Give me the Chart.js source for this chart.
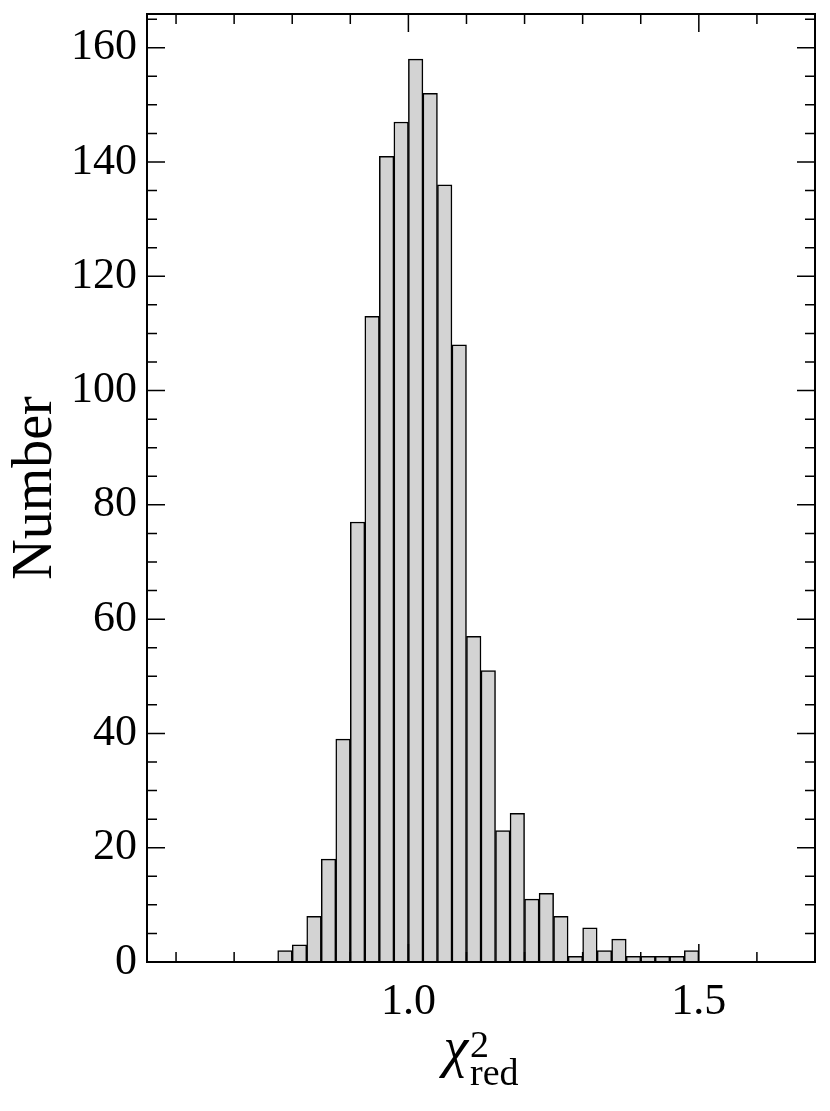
<!DOCTYPE html>
<html>
<head>
<meta charset="utf-8">
<script src="https://cdn.jsdelivr.net/npm/chart.js@4/dist/chart.umd.min.js"></script>
<style>
  html, body { margin: 0; padding: 0; background: #fff; }
  canvas { display: block; }
</style>
</head>
<body>
<canvas id="hist" width="830" height="1111"></canvas>
<script>
// bin centres of the reduced chi-square histogram (bin width 0.025)
const binCenters = [0.7875, 0.8125, 0.8375, 0.8625, 0.8875, 0.9125, 0.9375, 0.9625, 0.9875, 1.0125,
                    1.0375, 1.0625, 1.0875, 1.1125, 1.1375, 1.1625, 1.1875, 1.2125, 1.2375, 1.2625,
                    1.2875, 1.3125, 1.3375, 1.3625, 1.3875, 1.4125, 1.4375, 1.4625, 1.4875];
const counts = [2, 3, 8, 18, 39, 77, 113, 141, 147, 158,
                152, 136, 108, 57, 51, 23, 26, 11, 12, 8,
                1, 6, 2, 4, 1, 1, 1, 1, 2];

const xMajorTicks = [1.0, 1.5];
const xMinorTicks = [0.6, 0.7, 0.8, 0.9, 1.1, 1.2, 1.3, 1.4, 1.6, 1.7];
const yMajorTicks = [0, 20, 40, 60, 80, 100, 120, 140, 160];
const yMinorStep = 5;

const X_MIN = 0.55, X_MAX = 1.70;
const Y_MAX = 165.9;

const serif = '"Liberation Serif", "DejaVu Serif", serif';

// matplotlib-like frame with inward ticks on all four sides
const frameTicks = {
    id: 'frameTicks',
    afterDatasetsDraw(chart) {
        const { ctx, chartArea: a, scales: { x, y } } = chart;
        ctx.save();
        ctx.strokeStyle = '#000';
        ctx.lineWidth = 1.5;
        ctx.beginPath();
        const xTick = (v, len) => {
            const px = x.getPixelForValue(v);
            if (px < a.left - 0.5 || px > a.right + 0.5) return;
            ctx.moveTo(px, a.bottom); ctx.lineTo(px, a.bottom - len);
            ctx.moveTo(px, a.top); ctx.lineTo(px, a.top + len);
        };
        const yTick = (v, len) => {
            const py = y.getPixelForValue(v);
            if (py < a.top - 0.5 || py > a.bottom + 0.5) return;
            ctx.moveTo(a.left, py); ctx.lineTo(a.left + len, py);
            ctx.moveTo(a.right, py); ctx.lineTo(a.right - len, py);
        };
        xMajorTicks.forEach(v => xTick(v, 18));
        xMinorTicks.forEach(v => xTick(v, 10));
        for (let v = 0; v <= Y_MAX; v += yMinorStep) {
            yTick(v, yMajorTicks.includes(v) ? 18 : 10);
        }
        ctx.stroke();
        ctx.lineWidth = 2;
        ctx.strokeRect(a.left, a.top, a.right - a.left, a.bottom - a.top);
        ctx.restore();
    },
    afterDraw(chart) {
        // x label: chi^2_red
        const { ctx, chartArea: a } = chart;
        ctx.save();
        ctx.fillStyle = '#000';
        ctx.textBaseline = 'alphabetic';
        const bigFont = 'italic 56px ' + serif;
        const smallFont = '38px ' + serif;
        ctx.font = bigFont;
        const wChi = ctx.measureText('\u03c7').width;
        ctx.font = smallFont;
        const wRed = ctx.measureText('red').width;
        const total = wChi + 2 + wRed;
        const x0 = (a.left + a.right) / 2 - total / 2;
        ctx.font = bigFont;
        ctx.fillText('\u03c7', x0, 1066);
        ctx.font = smallFont;
        ctx.fillText('2', x0 + wChi + 2, 1057);
        ctx.fillText('red', x0 + wChi + 2, 1085);
        ctx.restore();
    }
};

new Chart(document.getElementById('hist'), {
    type: 'bar',
    data: {
        datasets: [{
            data: binCenters.map((c, i) => ({ x: c, y: counts[i] })),
            backgroundColor: '#d3d3d3',
            borderColor: '#000',
            borderWidth: 1.5,
            barPercentage: 1.0,
            categoryPercentage: 1.0
        }]
    },
    options: {
        responsive: false,
        animation: false,
        layout: { padding: { top: 14, right: 15, left: 0, bottom: 0 } },
        plugins: {
            legend: { display: false },
            tooltip: { enabled: false }
        },
        scales: {
            x: {
                type: 'linear',
                min: X_MIN,
                max: X_MAX,
                offset: false,
                grid: { display: false, drawTicks: false },
                border: { display: false },
                afterBuildTicks: s => { s.ticks = xMajorTicks.map(v => ({ value: v })); },
                afterFit: s => { s.height = 149; s.paddingLeft = 0; s.paddingRight = 0; },
                ticks: {
                    padding: 14,
                    color: '#000',
                    font: { family: serif, size: 44 },
                    callback: v => v.toFixed(1)
                }
            },
            y: {
                min: 0,
                max: Y_MAX,
                grid: { display: false, drawTicks: false },
                border: { display: false },
                afterBuildTicks: s => { s.ticks = yMajorTicks.map(v => ({ value: v })); },
                afterFit: s => { s.width = 147; s.paddingTop = 0; s.paddingBottom = 0; },
                ticks: {
                    padding: 10,
                    color: '#000',
                    font: { family: serif, size: 44 }
                },
                title: {
                    display: true,
                    text: 'Number',
                    color: '#000',
                    font: { family: serif, size: 56 },
                    padding: { top: 3, bottom: 0 }
                }
            }
        }
    },
    plugins: [frameTicks]
});
</script>
</body>
</html>
